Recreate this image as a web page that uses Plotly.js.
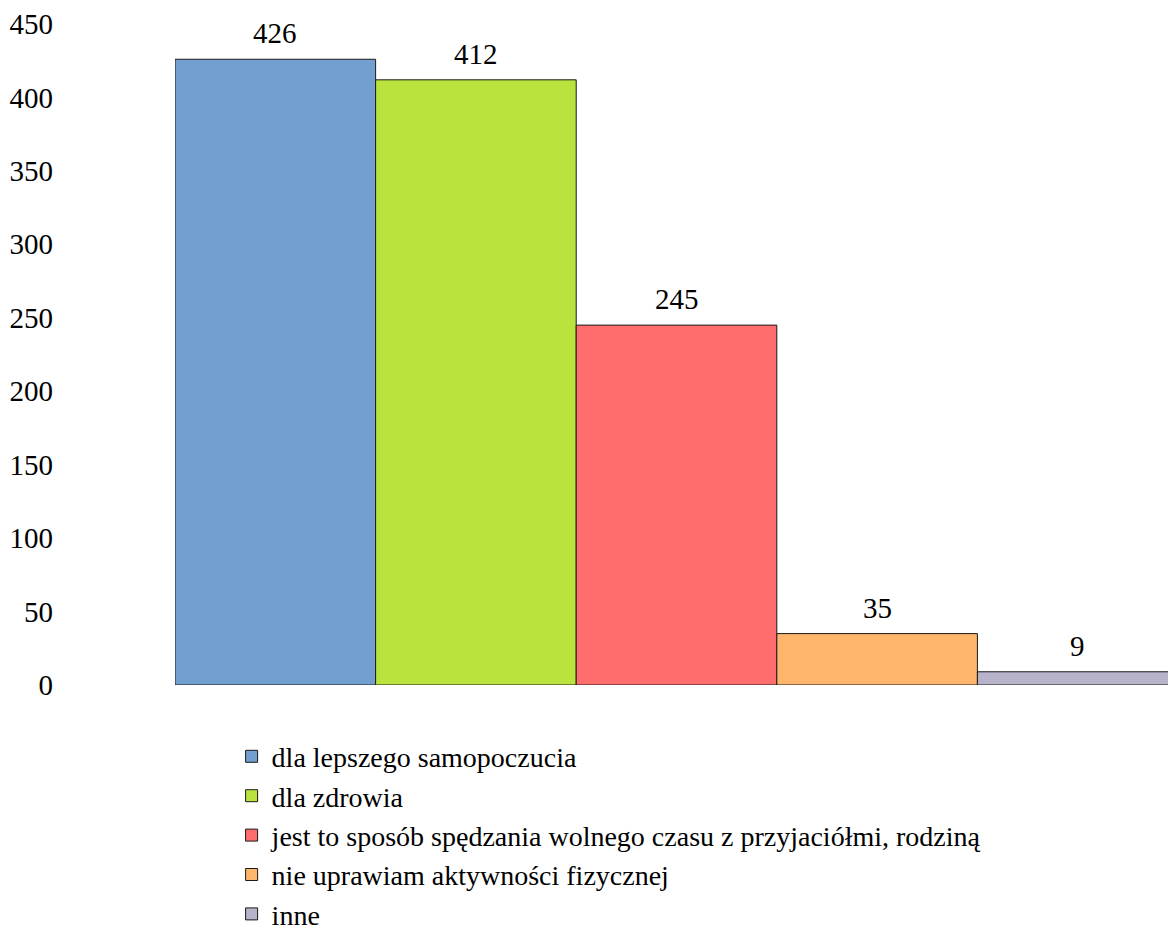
<!DOCTYPE html>
<html>
<head>
<meta charset="utf-8">
<script src="https://cdn.plot.ly/plotly-3.0.1.min.js"></script>
<style>
html,body{margin:0;padding:0;background:#fff;overflow:hidden;font-family:'Liberation Serif',serif}
#warm{position:absolute;left:700px;top:880px;font-family:'Liberation Serif',serif;font-size:29px;color:#fff;z-index:0}
#chart{position:absolute;left:0;top:0;z-index:1}
</style>
</head>
<body>
<div id="warm">0123456789 dla ąęóśćłżń</div>
<div id="chart" style="width:1168px;height:927px"></div>
<script>
const categories = [
  "dla lepszego samopoczucia",
  "dla zdrowia",
  "jest to sposób spędzania wolnego czasu z przyjaciółmi, rodziną",
  "nie uprawiam aktywności fizycznej",
  "inne"
];
const values = [426, 412, 245, 35, 9];
const colors = ["#729fcf", "#bbe33d", "#ff6d6d", "#ffb66c", "#b7b3ca"];
const yTicks = [0, 50, 100, 150, 200, 250, 300, 350, 400, 450];

const FONT = "Liberation Serif, Times New Roman, serif";

const traces = categories.map((c, i) => ({
  type: "bar",
  name: c,
  x: [c],
  y: [values[i]],
  marker: {color: colors[i], line: {color: "#1a1a1a", width: 1}},
  width: 1,
  hoverinfo: "none"
}));

const annotations = categories.map((c, i) => ({
  x: c,
  y: values[i],
  xref: "x",
  yref: "y",
  text: String(values[i]),
  showarrow: false,
  yanchor: "bottom",
  yshift: 8,
  font: {family: FONT, size: 29, color: "#000"}
}));

const layout = {
  width: 1168,
  height: 927,
  margin: {l: 175, r: 0, t: 23.5, b: 242, pad: 0, autoexpand: false},
  paper_bgcolor: "rgba(0,0,0,0)",
  plot_bgcolor: "rgba(0,0,0,0)",
  barmode: "overlay",
  bargap: 0,
  showlegend: true,
  annotations: annotations,
  font: {family: FONT, size: 29, color: "#000"},
  xaxis: {
    type: "category",
    categoryarray: categories,
    range: [-0.5, 4.45],
    showticklabels: false,
    showgrid: false,
    zeroline: false,
    showline: false,
    ticks: ""
  },
  yaxis: {
    range: [0, 450],
    tickvals: yTicks,
    ticktext: yTicks.map(String),
    showgrid: false,
    zeroline: false,
    showline: false,
    ticks: "",
    ticklabelstandoff: 121,
    tickfont: {family: FONT, size: 29, color: "#000"}
  },
  legend: {
    orientation: "v",
    x: 0.057,
    xanchor: "left",
    y: -0.0705,
    yanchor: "top",
    font: {family: FONT, size: 28, color: "#000"},
    traceorder: "normal",
    itemwidth: 30,
    bgcolor: "rgba(0,0,0,0)"
  }
};

Plotly.newPlot("chart", traces, layout, {displayModeBar: false, staticPlot: true});
setTimeout(function () { Plotly.redraw("chart"); }, 300);
</script>
</body>
</html>
